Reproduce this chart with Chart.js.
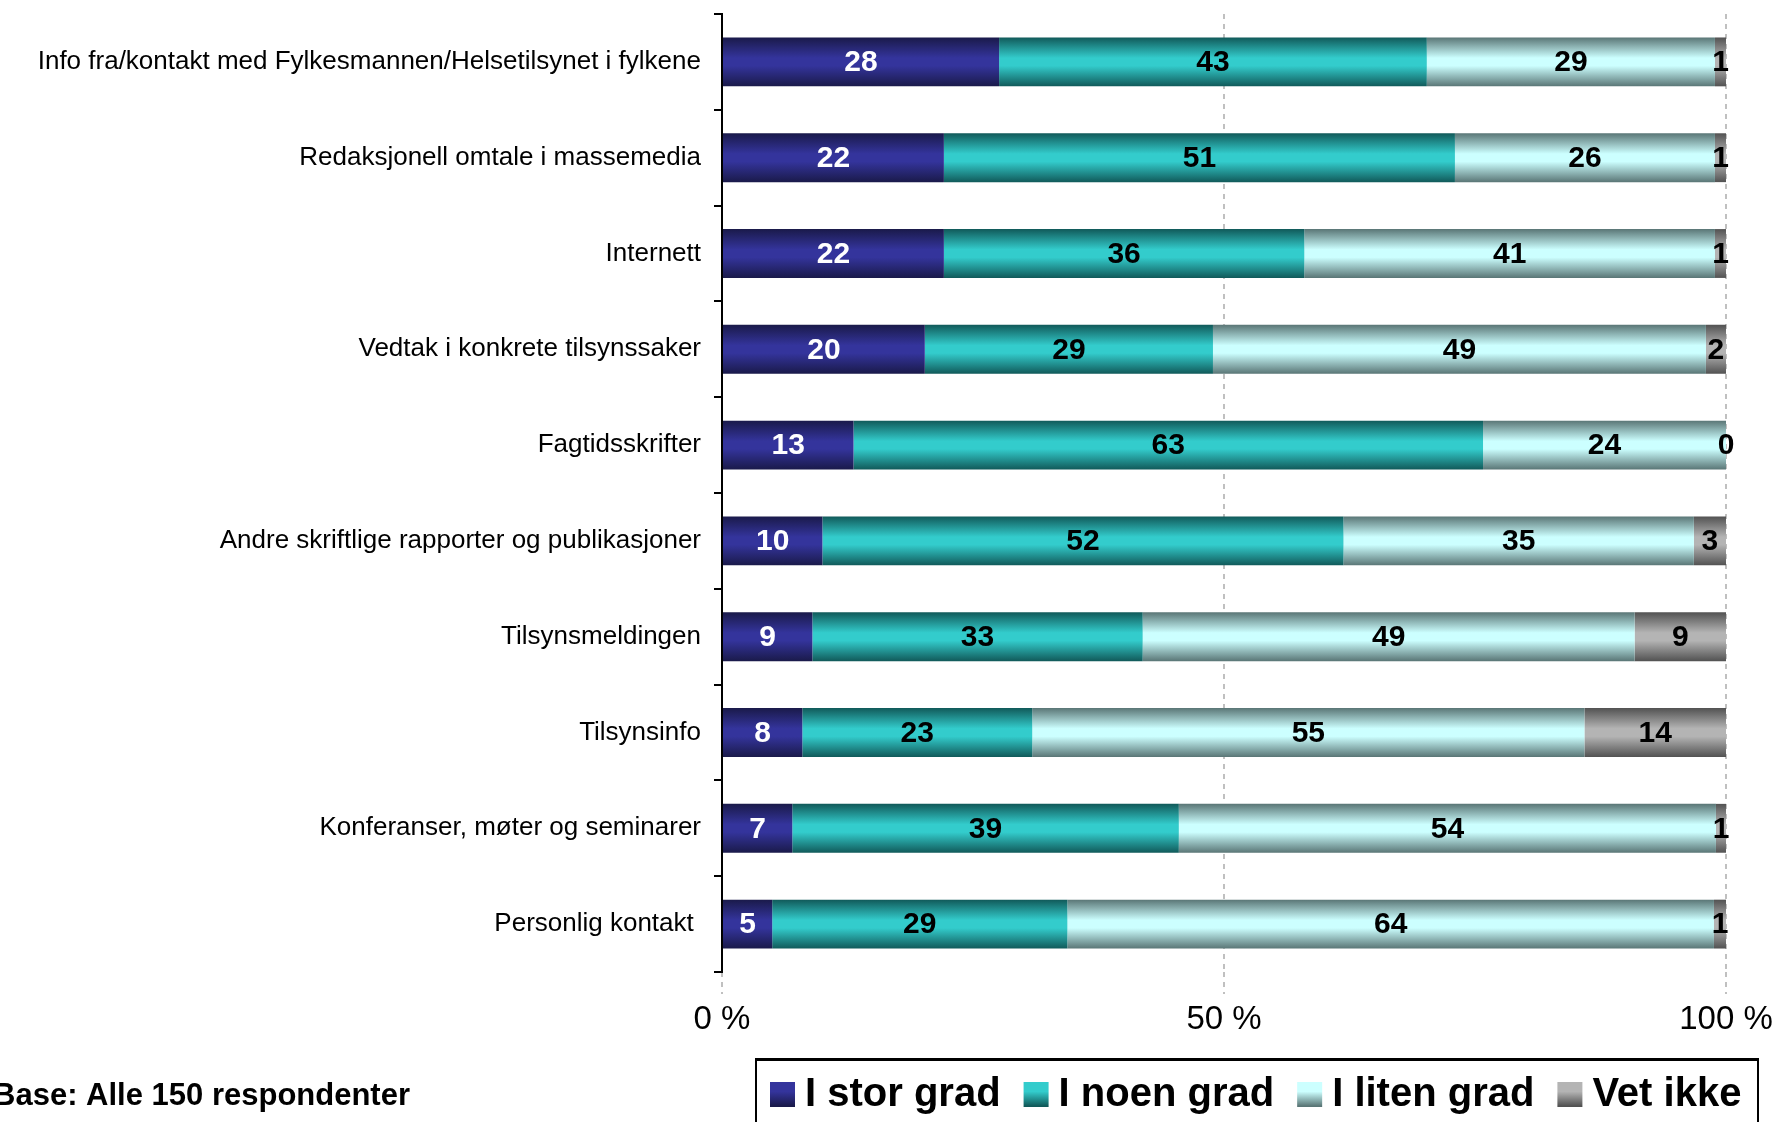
<!DOCTYPE html>
<html>
<head>
<meta charset="utf-8">
<script src="https://cdn.jsdelivr.net/npm/chart.js@4/dist/chart.umd.min.js"></script>
<style>
  body { margin: 0; background: #fff; }
  canvas { display: block; }
</style>
</head>
<body>
<canvas id="grafico" width="1772" height="1122"></canvas>
<script>
var kilder = [
    "Info fra/kontakt med Fylkesmannen/Helsetilsynet i fylkene",
    "Redaksjonell omtale i massemedia",
    "Internett",
    "Vedtak i konkrete tilsynssaker",
    "Fagtidsskrifter",
    "Andre skriftlige rapporter og publikasjoner",
    "Tilsynsmeldingen",
    "Tilsynsinfo",
    "Konferanser, møter og seminarer",
    "Personlig kontakt "
];
var serier = ["I stor grad", "I noen grad", "I liten grad", "Vet ikke"];
var storGrad  = [27.6, 22.1, 22.1, 20.2, 13.1, 10.0,  9.0,  8.0,  7.0,  5.0];
var noenGrad  = [42.6, 50.9, 35.9, 28.7, 62.7, 51.9, 32.9, 22.9, 38.5, 29.4];
var litenGrad = [28.7, 25.9, 40.9, 49.1, 24.2, 34.9, 49.0, 55.0, 53.5, 64.4];
var vetIkke   = [ 1.1,  1.1,  1.1,  2.0,  0.0,  3.2,  9.1, 14.1,  1.0,  1.2];
var xTicks = [0, 50, 100];
var baseTekst = "Base: Alle 150 respondenter";

var farger = [
    { mork: "#1a1a4a", lys: "#34349c", tekst: "#ffffff" },
    { mork: "#115a5a", lys: "#33cccc", tekst: "#000000" },
    { mork: "#5a7676", lys: "#ccffff", tekst: "#000000" },
    { mork: "#525252", lys: "#b4b4b4", tekst: "#000000" }
];
var stolpe = 0.51;

function skygge(f) {
    return function (c) {
        var y = c.chart.scales.y;
        if (c.dataIndex === undefined || !y) return f.lys;
        var midt = y.getPixelForValue(c.dataIndex);
        var h = (y.bottom - y.top) / kilder.length * stolpe / 2;
        if (!isFinite(midt) || !isFinite(h) || h <= 0) return f.lys;
        var g = c.chart.ctx.createLinearGradient(0, midt - h, 0, midt + h);
        g.addColorStop(0, f.mork);
        g.addColorStop(0.42, f.lys);
        g.addColorStop(0.58, f.lys);
        g.addColorStop(1, f.mork);
        return g;
    };
}

var verdiEtiketter = {
    id: "verdiEtiketter",
    afterDatasetsDraw: function (chart) {
        var ctx = chart.ctx;
        ctx.save();
        ctx.font = "bold 30px 'Liberation Sans', Arial, sans-serif";
        ctx.textAlign = "center";
        ctx.textBaseline = "middle";
        chart.data.datasets.forEach(function (ds, i) {
            ctx.fillStyle = farger[i].tekst;
            chart.getDatasetMeta(i).data.forEach(function (el, j) {
                ctx.fillText(String(Math.round(ds.data[j])), (el.x + el.base) / 2, el.y + 1);
            });
        });
        ctx.restore();
    }
};

var forklaring = {
    id: "forklaring",
    afterDraw: function (chart) {
        var ctx = chart.ctx;
        ctx.save();
        // ramme
        ctx.strokeStyle = "#000";
        ctx.lineWidth = 2;
        ctx.beginPath();
        ctx.moveTo(756, 1130);
        ctx.lineTo(756, 1060);
        ctx.lineTo(1758, 1060);
        ctx.lineTo(1758, 1130);
        ctx.stroke();
        ctx.fillStyle = "#000";
        ctx.fillRect(755, 1058, 1004, 3);

        ctx.font = "bold 40px 'Liberation Sans', Arial, sans-serif";
        ctx.textBaseline = "middle";
        ctx.textAlign = "left";
        var x = 770, yMidt = 1094;
        serier.forEach(function (navn, i) {
            var g = ctx.createLinearGradient(0, yMidt - 12, 0, yMidt + 12);
            g.addColorStop(0, farger[i].lys);
            g.addColorStop(0.4, farger[i].lys);
            g.addColorStop(1, farger[i].mork);
            ctx.fillStyle = g;
            ctx.fillRect(x, yMidt - 12, 25, 25);
            ctx.fillStyle = "#000";
            ctx.fillText(navn, x + 35, yMidt + 1);
            x += 35 + ctx.measureText(navn).width + 23;
        });

        ctx.font = "bold 31px 'Liberation Sans', Arial, sans-serif";
        ctx.textAlign = "right";
        ctx.fillText(baseTekst, 410, yMidt + 2);
        ctx.restore();
    }
};

document.addEventListener('DOMContentLoaded', function () {
    Chart.defaults.font.family = "'Liberation Sans', Arial, sans-serif";
    Chart.defaults.color = "#000";
    var ctx = document.getElementById("grafico").getContext("2d");
    var lister = [storGrad, noenGrad, litenGrad, vetIkke];
    new Chart(ctx, {
        type: "bar",
        data: {
            labels: kilder,
            datasets: serier.map(function (navn, i) {
                return {
                    label: navn,
                    data: lister[i],
                    backgroundColor: skygge(farger[i]),
                    borderWidth: 0,
                    categoryPercentage: 1,
                    barPercentage: stolpe
                };
            })
        },
        options: {
            indexAxis: "y",
            responsive: false,
            animation: false,
            layout: { padding: { left: 0, right: 0, top: 14, bottom: 0 } },
            plugins: {
                legend: { display: false },
                tooltip: { enabled: false }
            },
            scales: {
                x: {
                    stacked: true,
                    min: 0,
                    max: 100,
                    afterBuildTicks: function (s) {
                        s.ticks = xTicks.map(function (v) { return { value: v }; });
                    },
                    afterFit: function (s) {
                        s.height = 150;
                        s.paddingLeft = 0;
                        s.paddingRight = 46;
                    },
                    ticks: {
                        font: { size: 33 },
                        padding: 6,
                        callback: function (v) { return v + " %"; }
                    },
                    grid: {
                        color: "#c0c0c0",
                        lineWidth: 2,
                        tickLength: 22,
                        tickColor: "#c0c0c0",
                        tickBorderDash: [5, 5]
                    },
                    border: { display: false, dash: [5, 5] }
                },
                y: {
                    stacked: true,
                    afterFit: function (s) {
                        s.width = 722;
                        s.paddingTop = 0;
                        s.paddingBottom = 0;
                    },
                    ticks: {
                        font: { size: 26 },
                        padding: 13
                    },
                    grid: {
                        offset: true,
                        lineWidth: 2,
                        color: function (c) {
                            return c.index === kilder.length ? "#c0c0c0" : "rgba(0,0,0,0)";
                        },
                        tickColor: "#000",
                        tickWidth: 2,
                        tickLength: 8,
                        tickBorderDash: []
                    },
                    border: { display: true, color: "#000", width: 2, dash: [5, 5] }
                }
            }
        },
        plugins: [verdiEtiketter, forklaring]
    });
});
</script>
</body>
</html>
